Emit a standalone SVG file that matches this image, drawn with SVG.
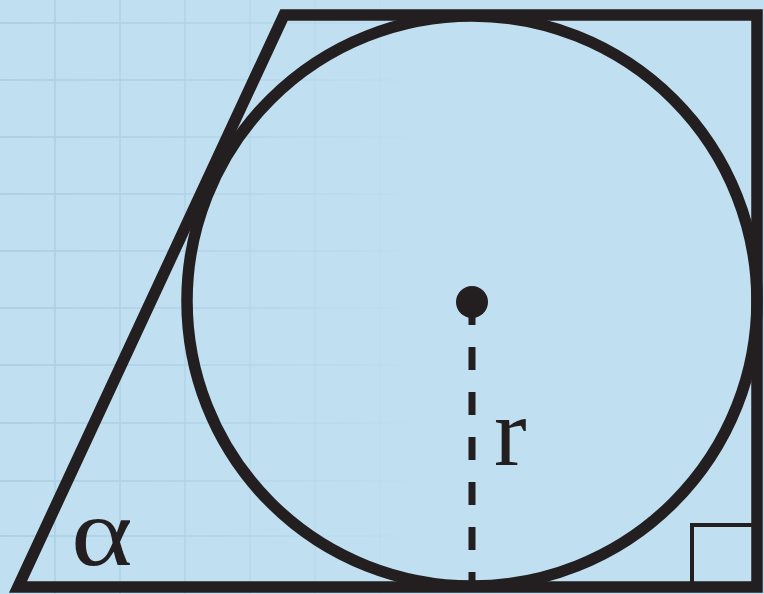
<svg xmlns="http://www.w3.org/2000/svg" width="764" height="594" viewBox="0 0 764 594">
<defs>
<linearGradient id="gfade" gradientUnits="userSpaceOnUse" x1="0" y1="0" x2="420" y2="0">
<stop offset="0" stop-color="#aed0e5" stop-opacity="1"/>
<stop offset="0.6" stop-color="#aed0e5" stop-opacity="0.5"/>
<stop offset="1" stop-color="#aed0e5" stop-opacity="0"/>
</linearGradient>
<style>
.ln{fill:none;stroke:#231f20;stroke-width:11.5;stroke-linejoin:miter}
.grid{stroke:url(#gfade);stroke-width:2}
.vgrid{stroke:#aed0e5;stroke-width:2}
.lbl{font-family:"Liberation Serif","Times New Roman",serif;fill:#231f20}
</style>
</defs>
<rect x="0" y="0" width="764" height="594" fill="#c0dff1"/>
<g id="grid">
<line class="grid" x1="0" y1="23" x2="420" y2="23"/>
<line class="grid" x1="0" y1="80" x2="420" y2="80"/>
<line class="grid" x1="0" y1="137" x2="420" y2="137"/>
<line class="grid" x1="0" y1="194" x2="420" y2="194"/>
<line class="grid" x1="0" y1="251" x2="420" y2="251"/>
<line class="grid" x1="0" y1="308" x2="420" y2="308"/>
<line class="grid" x1="0" y1="365" x2="420" y2="365"/>
<line class="grid" x1="0" y1="423" x2="420" y2="423"/>
<line class="grid" x1="0" y1="481" x2="420" y2="481"/>
<line class="grid" x1="0" y1="536" x2="420" y2="536"/>
<line class="vgrid" x1="55" y1="0" x2="55" y2="594" opacity="0.8"/>
<line class="vgrid" x1="120" y1="0" x2="120" y2="594" opacity="0.65"/>
<line class="vgrid" x1="185" y1="0" x2="185" y2="594" opacity="0.5"/>
<line class="vgrid" x1="250" y1="0" x2="250" y2="594" opacity="0.35"/>
<line class="vgrid" x1="315" y1="0" x2="315" y2="594" opacity="0.2"/>
<line class="vgrid" x1="380" y1="0" x2="380" y2="594" opacity="0.08"/>
</g>
<g id="trapezoid">
<polygon class="ln" points="18,587 757,587 757,15 284,15"/>
</g>
<g id="circle">
<circle class="ln" cx="472" cy="301" r="285"/>
</g>
<g id="connectors">
<line x1="472" y1="302" x2="472" y2="587" stroke="#231f20" stroke-width="7" stroke-dasharray="23 22"/>
</g>
<g id="center">
<circle cx="472" cy="302" r="16" fill="#231f20"/>
</g>
<g id="right-angle">
<polyline points="692,587 692,525 757,525" fill="none" stroke="#231f20" stroke-width="4"/>
</g>
<g id="labels">
<text class="lbl" x="494" y="465" font-size="98">r</text>
<text class="lbl" x="71" y="565" font-size="98" transform="translate(71 565) scale(1.2 1) translate(-71 -565)">α</text>
</g>
</svg>
